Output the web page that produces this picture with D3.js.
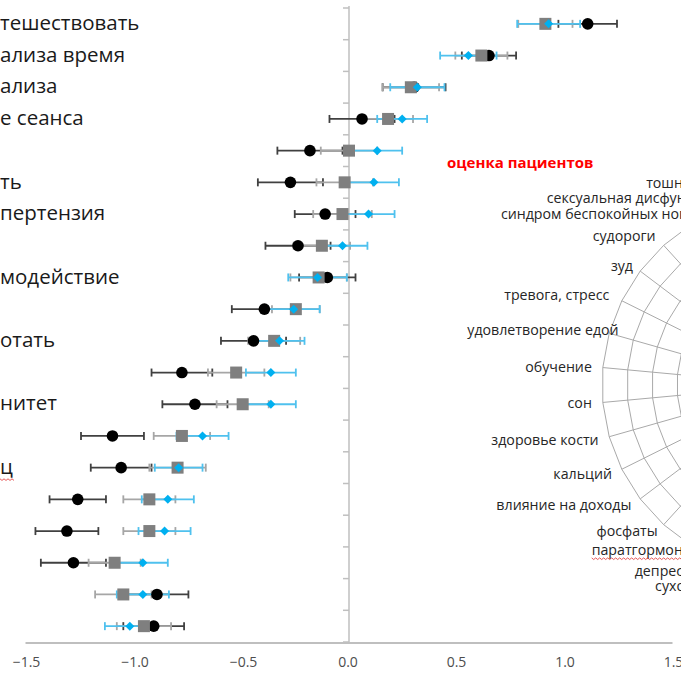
<!DOCTYPE html>
<html>
<head>
<meta charset="utf-8">
<script src="https://cdn.jsdelivr.net/npm/d3@7"></script>
<style>
  body { margin: 0; background: #fff; }
  svg { display: block; }
  text { font-family: "Open Sans", "Noto Sans", sans-serif; }
</style>
</head>
<body>
<div id="chart"></div>
<script>
// dot plot rows, top to bottom (labels are cut off at the left edge in the original)
var rowLabels = ["тешествовать", "ализа время", "ализа", "е сеанса", "", "ть", "пертензия", "", "модействие", "",
                 "отать", "", "нитет", "", "ц", "", "", "", "", ""];
var blackVal = [1.10, 0.645, 0.30, 0.06, -0.18, -0.27, -0.11, -0.235, -0.10, -0.39, -0.44, -0.77, -0.71, -1.09, -1.05, -1.25, -1.30, -1.27, -0.885, -0.90];
var blackErr = [0.135, 0.125, 0.145, 0.15, 0.15, 0.15, 0.14, 0.15, 0.13, 0.15, 0.15, 0.14, 0.15, 0.145, 0.14, 0.13, 0.145, 0.15, 0.145, 0.14];
var grayVal  = [0.905, 0.61, 0.285, 0.18, 0.0, -0.02, -0.03, -0.125, -0.14, -0.245, -0.345, -0.52, -0.49, -0.77, -0.79, -0.92, -0.92, -1.08, -1.04, -0.945];
var grayErr  = [0.125, 0.12, 0.13, 0.115, 0.13, 0.13, 0.135, 0.13, 0.13, 0.11, 0.12, 0.13, 0.12, 0.13, 0.13, 0.12, 0.12, 0.12, 0.13, 0.125];
var blueVal  = [0.92, 0.55, 0.315, 0.245, 0.13, 0.115, 0.09, -0.03, -0.145, -0.255, -0.32, -0.36, -0.36, -0.675, -0.785, -0.835, -0.85, -0.95, -0.95, -1.01];
var blueErr  = [0.145, 0.13, 0.125, 0.115, 0.115, 0.115, 0.12, 0.115, 0.135, 0.12, 0.115, 0.115, 0.115, 0.12, 0.11, 0.12, 0.12, 0.115, 0.12, 0.115];
var xTicks = [-1.5, -1.0, -0.5, 0.0, 0.5, 1.0, 1.5];

// radar ("оценка пациентов"), 34 categories clockwise from the top; only the left half is in view
var radarTitle = "оценка пациентов";
var radarN = 34;
var radarFirst = 18;
var radarCats = ["сухость во рту", "депрессия", "паратгормон", "фосфаты", "влияние на доходы", "кальций",
                 "здоровье кости", "сон", "обучение", "удовлетворение едой", "тревога, стресс", "зуд",
                 "судороги", "синдром беспокойных ног", "сексуальная дисфункция", "тошнота, рвота"];
var radarRings = 8;
// label placement (layout only): distance from the radar centre and a small sideways nudge
var radarLabelR  = [205, 200, 194, 198, 200, 200, 200, 200, 200, 200, 203, 198, 201, 201, 200, 205];
var radarLabelDx = [0, -12, -6, 0, 0, 0, 0, 0, 0, 20, 0, 0, 0, 0, 0, 0];

var width = 681, height = 674;
var svg = d3.select("#chart").append("svg").attr("width", width).attr("height", height);

var x = d3.scaleLinear().domain([-1.5, 1.5]).range([23.5, 674.5]);
var y = d3.scaleBand().domain(d3.range(blackVal.length)).range([8, 642]);
var yc = function (i) { return y(i) + y.bandwidth() / 2; };

// ---- radar grid (drawn first, sits behind everything) ----
var cx = 791, cy = 385, R = 189, ringStep = 25;
var ang = function (i) { return i * 2 * Math.PI / radarN; };
var radar = svg.append("g").attr("transform", "translate(" + cx + "," + cy + ")");
var ringLine = d3.lineRadial().angle(function (d) { return ang(d); }).curve(d3.curveLinearClosed);
d3.range(radarRings).forEach(function (k) {
    var r = R - k * ringStep;
    radar.append("path").attr("d", ringLine.radius(r)(d3.range(radarN)))
        .style("fill", "none").style("stroke", "#a9a9a9").style("stroke-width", 1);
});
radar.selectAll("line.spoke").data(d3.range(radarN)).enter().append("line").attr("class", "spoke")
    .attr("x1", 0).attr("y1", 0)
    .attr("x2", function (i) { return Math.sin(ang(i)) * R; })
    .attr("y2", function (i) { return -Math.cos(ang(i)) * R; })
    .style("stroke", "#a9a9a9").style("stroke-width", 1);
var radarText = radar.selectAll("text.cat").data(radarCats).enter().append("text").attr("class", "cat")
    .attr("x", function (d, j) { return Math.sin(ang(radarFirst + j)) * radarLabelR[j] + radarLabelDx[j]; })
    .attr("y", function (d, j) { return -Math.cos(ang(radarFirst + j)) * radarLabelR[j]; })
    .attr("dy", "0.35em").attr("text-anchor", "end")
    .style("font-size", "14.2px").style("fill", "#262626")
    .text(function (d) { return d; });

svg.append("text").attr("x", 447).attr("y", 168).text(radarTitle)
    .style("font-size", "15px").style("font-weight", "bold").style("fill", "#ff0000");

// ---- dot plot axes ----
svg.append("line").attr("x1", x(0)).attr("x2", x(0)).attr("y1", 6).attr("y2", 643)
    .style("stroke", "#bfbfbf").style("stroke-width", 1.5);
svg.selectAll("line.ytick").data(d3.range(blackVal.length + 1)).enter().append("line").attr("class", "ytick")
    .attr("x1", x(0) - 6).attr("x2", x(0))
    .attr("y1", function (i) { return 8 + i * y.step(); })
    .attr("y2", function (i) { return 8 + i * y.step(); })
    .style("stroke", "#bfbfbf").style("stroke-width", 1.5);
svg.append("line").attr("x1", x(-1.5) + 2).attr("x2", x(1.5) - 2).attr("y1", 643).attr("y2", 643)
    .style("stroke", "#bfbfbf").style("stroke-width", 2);
svg.selectAll("text.xtick").data(xTicks).enter().append("text").attr("class", "xtick")
    .attr("x", function (d) { return x(d) + (d < 0 ? 3 : -1); }).attr("y", 667)
    .attr("text-anchor", "middle").style("font-size", "14px").style("fill", "#4d4d4d")
    .text(d3.format(".1f"));

// row labels (cut off at the left edge)
var rowText = svg.selectAll("text.row").data(rowLabels).enter().append("text").attr("class", "row")
    .attr("x", 0).attr("y", function (d, i) { return yc(i) - 1; }).attr("dy", "0.35em")
    .style("font-size", "20.5px").style("fill", "#1a1a1a")
    .text(function (d) { return d; });

// ---- error bars, then markers ----
var series = [
    {val: blackVal, err: blackErr, bar: "#404040"},
    {val: grayVal, err: grayErr, bar: "#a6a6a6"},
    {val: blueVal, err: blueErr, bar: "#4fc1ee"}
];
series.forEach(function (s) {
    var g = svg.append("g");
    s.val.forEach(function (v, i) {
        var lo = x(v - s.err[i]), hi = x(v + s.err[i]), yy = yc(i);
        g.append("line").attr("x1", lo).attr("x2", hi).attr("y1", yy).attr("y2", yy)
            .style("stroke", s.bar).style("stroke-width", 1.8);
        [lo, hi].forEach(function (xx) {
            g.append("line").attr("x1", xx).attr("x2", xx).attr("y1", yy - 4).attr("y2", yy + 4)
                .style("stroke", s.bar).style("stroke-width", 1.8);
        });
    });
});

svg.selectAll("circle.blk").data(blackVal).enter().append("circle").attr("class", "blk")
    .attr("cx", function (d) { return x(d); }).attr("cy", function (d, i) { return yc(i); })
    .attr("r", 5.8).style("fill", "#000");
svg.selectAll("rect.gry").data(grayVal).enter().append("rect").attr("class", "gry")
    .attr("x", function (d) { return x(d) - 6; }).attr("y", function (d, i) { return yc(i) - 6; })
    .attr("width", 12).attr("height", 12).style("fill", "#7f7f7f");
var diamond = d3.symbol().type(d3.symbolDiamond2).size(52);
svg.selectAll("path.blu").data(blueVal).enter().append("path").attr("class", "blu")
    .attr("d", diamond)
    .attr("transform", function (d, i) { return "translate(" + x(d) + "," + yc(i) + ")"; })
    .style("fill", "#00b0f0");

// red spell-check squiggles under two words
function squiggle(node, ox, oy) {
    var b = node.getBBox(), yy = oy + b.y + b.height - 1, p = "M" + (ox + b.x) + "," + yy;
    for (var xx = ox + b.x, k = 0; xx < ox + b.x + b.width; xx += 2, k++) {
        p += "L" + (xx + 2) + "," + (yy + (k % 2 ? 0 : 1.6));
    }
    svg.append("path").attr("d", p).style("fill", "none").style("stroke", "#e03030").style("stroke-width", 0.8);
}
rowText.filter(function (d) { return d === "ц"; }).each(function () { squiggle(this, 0, 0); });
radarText.filter(function (d) { return d === "паратгормон"; }).each(function () { squiggle(this, cx, cy); });
</script>
</body>
</html>
